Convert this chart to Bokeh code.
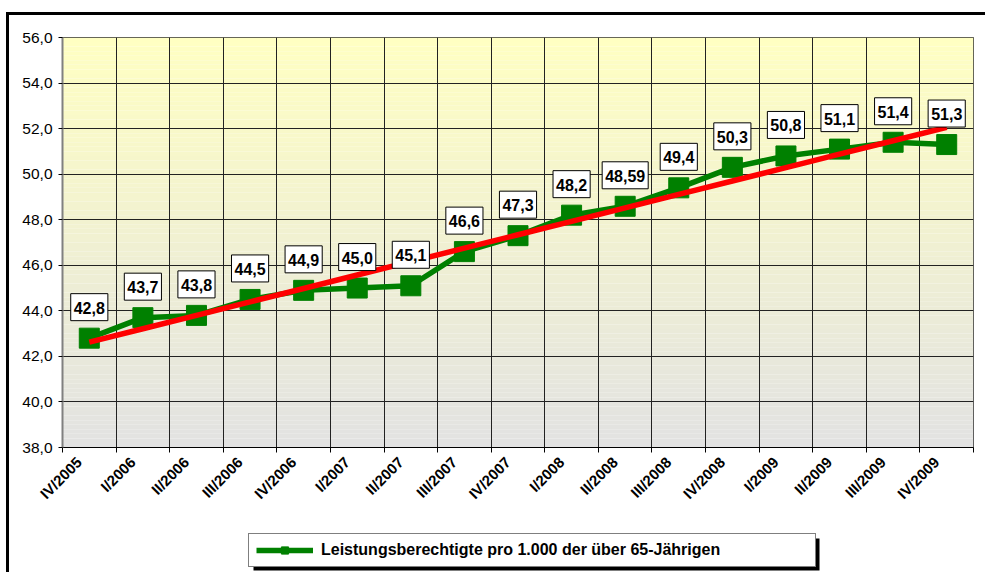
import numpy as np
from math import pi
from bokeh.plotting import figure
from bokeh.layouts import column
from bokeh.models import (ColumnDataSource, Label, Legend, LegendItem, FixedTicker, Range1d,
                          BoxAnnotation)
from bokeh.embed import file_html
from bokeh.resources import INLINE

# ---- data ----
quarters = ["IV/2005", "I/2006", "II/2006", "III/2006", "IV/2006", "I/2007", "II/2007",
            "III/2007", "IV/2007", "I/2008", "II/2008", "III/2008", "IV/2008", "I/2009",
            "II/2009", "III/2009", "IV/2009"]
values = [42.8, 43.7, 43.8, 44.5, 44.9, 45.0, 45.1, 46.6, 47.3, 48.2, 48.59, 49.4,
          50.3, 50.8, 51.1, 51.4, 51.3]
value_labels = ["42,8", "43,7", "43,8", "44,5", "44,9", "45,0", "45,1", "46,6", "47,3",
                "48,2", "48,59", "49,4", "50,3", "50,8", "51,1", "51,4", "51,3"]
y_ticks = [38, 40, 42, 44, 46, 48, 50, 52, 54, 56]
y_tick_labels = ["38,0", "40,0", "42,0", "44,0", "46,0", "48,0", "50,0", "52,0", "54,0", "56,0"]
series_name = "Leistungsberechtigte pro 1.000 der über 65-Jährigen"

FONT = "Liberation Sans"
GREEN = "#008000"
n = len(quarters)
xc = [i + 0.5 for i in range(n)]
LABEL_SHIFT = 0.19  # rotated category labels sit slightly left of the category centre

# linear trend (Excel-style trend line) computed from the data
coef = np.polyfit(np.arange(n), values, 1)
trend = [float(np.polyval(coef, i)) for i in range(n)]

W = 976
BL, BR = 53, 12
p = figure(width=W, height=502, output_backend="svg", toolbar_location=None,
           x_range=Range1d(0, n), y_range=Range1d(38, 56),
           min_border_left=BL, min_border_top=22, min_border_right=BR, min_border_bottom=70)
p.background_fill_color = "white"
p.border_fill_color = "white"
p.outline_line_color = "#333333"
p.outline_line_width = 1

# gradient background (decorative)
nb = 90
top_c = np.array([255, 255, 194])
bot_c = np.array([226, 226, 226])
edges = np.linspace(38, 56, nb + 1)
cols = []
for k in range(nb):
    t = (k + 0.5) / nb
    c = bot_c + (top_c - bot_c) * t
    cols.append("#%02x%02x%02x" % tuple(int(round(v)) for v in c))
p.quad(left=0, right=n, bottom=edges[:-1], top=edges[1:], fill_color=cols,
       line_color=None, level="underlay")

# axes
tick_pos = [x - LABEL_SHIFT for x in xc]
p.xaxis.ticker = FixedTicker(ticks=tick_pos, minor_ticks=list(range(n + 1)))
p.xaxis.major_label_overrides = {x: q for x, q in zip(tick_pos, quarters)}
p.xaxis.major_label_orientation = pi / 4
p.xaxis.major_label_text_font = FONT
p.xaxis.major_label_text_font_style = "bold"
p.xaxis.major_label_text_font_size = "15px"
p.xaxis.major_label_text_color = "black"
p.xaxis.major_label_standoff = 6
p.xaxis.major_tick_line_color = None
p.xaxis.minor_tick_out = 5
p.xaxis.minor_tick_in = 0
p.xaxis.minor_tick_line_color = "black"
p.xaxis.axis_line_color = "black"

p.yaxis.ticker = FixedTicker(ticks=y_ticks, minor_ticks=[])
p.yaxis.major_label_overrides = {t: l for t, l in zip(y_ticks, y_tick_labels)}
p.yaxis.major_label_text_font = FONT
p.yaxis.major_label_text_font_size = "15.5px"
p.yaxis.major_label_text_color = "black"
p.yaxis.major_tick_out = 4
p.yaxis.major_tick_in = 0
p.yaxis.major_tick_line_color = "black"
p.yaxis.axis_line_color = "#808080"
p.yaxis.axis_line_width = 2
p.yaxis.major_label_standoff = 6

p.xgrid.grid_line_color = None
p.xgrid.minor_grid_line_color = "#222222"
p.xgrid.minor_grid_line_width = 1
p.ygrid.grid_line_color = "#222222"
p.ygrid.grid_line_width = 1

src = ColumnDataSource(dict(x=xc, y=values, t=trend, lbl=value_labels))
p.line("x", "y", source=src, line_color=GREEN, line_width=5.5)
p.scatter("x", "y", source=src, marker="square", size=20, fill_color=GREEN,
          line_color=GREEN)
p.line("x", "t", source=src, line_color="#FF0000", line_width=5.5)

for x, y, lbl in zip(xc, values, value_labels):
    p.add_layout(Label(x=x, y=y, text=lbl, y_offset=31, text_align="center",
                       text_baseline="middle", text_font=FONT, text_font_style="bold",
                       text_font_size="16px", text_color="black",
                       background_fill_color="white", border_line_color="black",
                       border_line_width=1,
                       padding=dict(left=3, right=3, top=8, bottom=7)))

# ---- legend strip (separate canvas below the chart) ----
LH = 55
lf = figure(width=W, height=LH, output_backend="svg", toolbar_location=None,
            x_range=Range1d(BL, W - BR), y_range=Range1d(LH, 0),
            x_axis_location=None, y_axis_location=None,
            min_border_left=BL, min_border_right=BR,
            min_border_top=0, min_border_bottom=0)
lf.grid.visible = False
lf.outline_line_color = None
lf.background_fill_color = "white"
lf.border_fill_color = "white"
# off-canvas sample renderers that only provide the legend glyph styling
lg_line = lf.line(x=[-100, -90], y=[-100, -100], line_color=GREEN, line_width=5.5)
lg_sq = lf.scatter(x=[-100], y=[-100], marker="square", size=15, fill_color=GREEN,
                   line_color=GREEN)
lf.add_layout(BoxAnnotation(left=244, right=810, top=21, bottom=53,
                            fill_color="black", fill_alpha=1, line_color=None))
legend = Legend(items=[LegendItem(label=series_name, renderers=[lg_line, lg_sq])],
                location=(239 - BL, 5), orientation="horizontal",
                label_text_font=FONT, label_text_font_style="bold",
                label_text_font_size="16px", label_text_color="black",
                glyph_width=57, glyph_height=18, label_standoff=8, padding=7,
                margin=0, label_width=487, border_line_color="black",
                border_line_width=1, background_fill_color="white",
                background_fill_alpha=1)
lf.add_layout(legend, "center")

layout = column(p, lf, spacing=0,
                styles={"border-left": "3px solid black", "border-top": "3px solid black",
                        "margin-left": "6px", "margin-top": "12px"})

open("out.html", "w").write(file_html(layout, INLINE))
